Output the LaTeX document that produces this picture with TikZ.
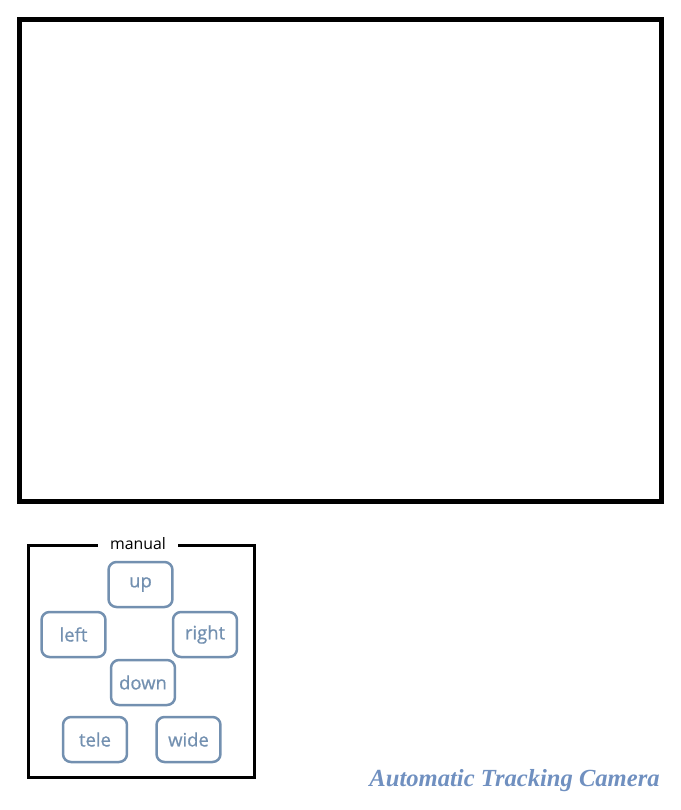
\documentclass[tikz,border=0pt]{standalone}
\usepackage{fontspec}
\setmainfont{Open Sans}
\newfontfamily\buttonfont[FakeBold=0.8]{Open Sans}
\newfontfamily\titlefont{Liberation Serif}
\usepackage{xcolor}
\usepackage{tikz}
\usetikzlibrary{positioning}
\definecolor{btnblue}{HTML}{7390B0}
\definecolor{titleblue}{HTML}{7090C0}
\tikzstyle{screen} = [rectangle, minimum width=12.85cm, minimum height=9.65cm, draw=black, line width=0.1cm]
\tikzstyle{panel} = [rectangle, minimum width=4.54cm, minimum height=4.66cm, draw=black, line width=0.06cm]
\tikzstyle{paneltitle} = [fill=white, inner xsep=0.24cm, inner ysep=1pt, font=\fontsize{9}{10}\selectfont]
\tikzstyle{button} = [rectangle, rounded corners=0.16cm, minimum width=1.28cm, minimum height=0.9cm, draw=btnblue, line width=0.05cm, text=btnblue, font=\buttonfont\fontsize{10.5}{12}\selectfont]

\begin{document}
\begin{tikzpicture}[x=0.02cm, y=-0.02cm]
  \useasboundingbox (0,0) rectangle (680,810);
  \node (screen) [screen] at (340.25,260.25) {};

  \node (manual) [panel] at (141.5,661.5) {};
  \node (manuallabel) [paneltitle] at (manual.north -| 138,0) {manual};

  \node (up) [button] at (140.5,584.5) {up};
  \node (left) [button] at (73.5,634.5) {left};
  \node (right) [button] at (205,634.5) {right};
  \node (down) [button] at (143,682.5) {down};
  \node (tele) [button] at (95,739.5) {tele};
  \node (wide) [button] at (188.5,739.5) {wide};

  \node (title) [text=titleblue, inner sep=0pt, font=\titlefont\bfseries\itshape\fontsize{14}{16}\selectfont, anchor=east] at (660,781) {Automatic Tracking Camera};
\end{tikzpicture}
\end{document}
